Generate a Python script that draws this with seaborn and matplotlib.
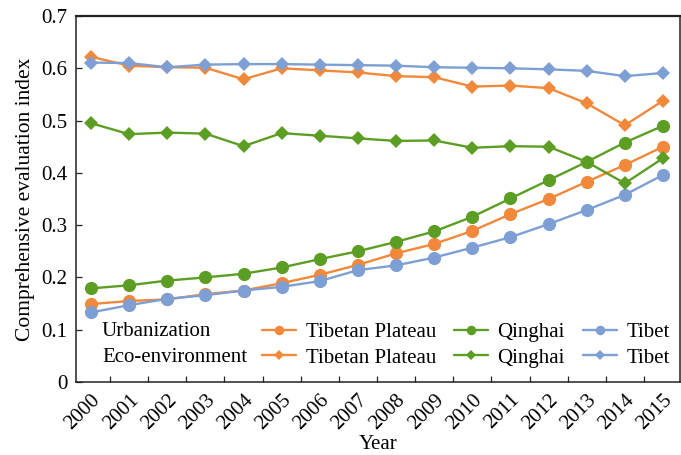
import matplotlib
matplotlib.use("Agg")
import matplotlib.pyplot as plt
from matplotlib.lines import Line2D
from matplotlib.ticker import FuncFormatter, FixedLocator
import numpy as np
import pandas as pd
import seaborn as sns

years = list(range(2000, 2016))

# Urbanization index
urb_plateau = [0.149, 0.155, 0.158, 0.168, 0.175, 0.189, 0.205, 0.224, 0.246, 0.264,
               0.289, 0.321, 0.350, 0.383, 0.415, 0.450]
urb_qinghai = [0.179, 0.185, 0.194, 0.200, 0.207, 0.219, 0.235, 0.250, 0.268, 0.288,
               0.316, 0.351, 0.386, 0.421, 0.458, 0.490]
urb_tibet = [0.133, 0.147, 0.159, 0.166, 0.175, 0.182, 0.193, 0.214, 0.223, 0.238,
             0.257, 0.277, 0.302, 0.329, 0.358, 0.396]

# Eco-environment index
eco_plateau = [0.622, 0.605, 0.602, 0.601, 0.579, 0.600, 0.596, 0.592, 0.585, 0.583,
               0.565, 0.567, 0.562, 0.533, 0.491, 0.538]
eco_qinghai = [0.495, 0.474, 0.477, 0.475, 0.451, 0.476, 0.471, 0.466, 0.461, 0.462,
               0.448, 0.451, 0.450, 0.421, 0.380, 0.428]
eco_tibet = [0.611, 0.610, 0.602, 0.607, 0.608, 0.608, 0.607, 0.606, 0.605, 0.602,
             0.601, 0.600, 0.598, 0.595, 0.585, 0.591]

regions = ["Tibetan Plateau", "Qinghai", "Tibet"]
indices = ["Urbanization", "Eco-environment"]
colors = {"Tibetan Plateau": "#F2883A", "Qinghai": "#5C9E24", "Tibet": "#7D9FD3"}
markers = {"Urbanization": "o", "Eco-environment": "D"}
sizes = {"Urbanization": 9.5, "Eco-environment": 7.0}

series = {
    ("Urbanization", "Tibetan Plateau"): urb_plateau,
    ("Urbanization", "Qinghai"): urb_qinghai,
    ("Urbanization", "Tibet"): urb_tibet,
    ("Eco-environment", "Tibetan Plateau"): eco_plateau,
    ("Eco-environment", "Qinghai"): eco_qinghai,
    ("Eco-environment", "Tibet"): eco_tibet,
}

rows = []
for (idx, reg), vals in series.items():
    for y, v in zip(years, vals):
        rows.append({"Year": y, "value": v, "region": reg, "index": idx})
df = pd.DataFrame(rows)

sns.set_theme(style="white")
plt.rcParams["font.family"] = ["Liberation Serif", "DejaVu Serif"]
plt.rcParams["text.color"] = "black"
plt.rcParams["axes.labelcolor"] = "black"
plt.rcParams["xtick.color"] = "black"
plt.rcParams["ytick.color"] = "black"

FS = 15

fig = plt.figure(figsize=(6.81, 4.55), dpi=100)
ax = fig.add_axes([76 / 681, 1 - 382 / 455, 604 / 681, 366 / 455])

for idx in indices:
    for reg in regions:
        sub = df[(df["index"] == idx) & (df["region"] == reg)]
        sns.lineplot(data=sub, x="Year", y="value", ax=ax, color=colors[reg],
                     marker=markers[idx], markersize=sizes[idx], markeredgewidth=0,
                     linewidth=1.7, legend=False)

ax.set_xlim(1999.607, 2015.446)
ax.set_ylim(0, 0.7)

ax.xaxis.set_major_locator(FixedLocator(years))
ax.set_xticks([y + 0.5 for y in years[:-1]], minor=True)
ax.set_xticklabels([str(y) for y in years], rotation=45, ha="right", va="top",
                   rotation_mode="anchor")
ax.tick_params(axis="x", which="major", length=0, pad=6, labelsize=FS)
ax.tick_params(axis="x", which="minor", direction="in", length=4, width=0.9,
               bottom=True, color="#222222")
ax.set_yticks(np.arange(0, 0.71, 0.1))
ax.yaxis.set_major_formatter(FuncFormatter(lambda v, p: "0" if abs(v) < 1e-9 else f"{v:.1f}"))
ax.tick_params(axis="y", direction="in", length=4, width=0.9, pad=6, labelsize=FS,
               left=True, color="#222222")

for s in ax.spines.values():
    s.set_color("#222222")
    s.set_linewidth(1.1)
ax.spines["top"].set_linewidth(1.6)

ax.set_xlabel("Year", fontsize=FS, labelpad=1)
ax.set_ylabel("Comprehensive evaluation index", fontsize=15.5, labelpad=5)
ax.set_facecolor("white")

# two-row legend: index names as row headers, regions as columns
ax.text((102 - 76) / 604, (382 - 332) / 366, "Urbanization", transform=ax.transAxes,
        fontsize=FS, va="center", ha="left")
ax.text((102 - 76) / 604, (382 - 358) / 366, "Eco-environment", transform=ax.transAxes,
        fontsize=FS, va="center", ha="left")

handles, labels = [], []
for reg in regions:
    for idx in indices:
        handles.append(Line2D([], [], color=colors[reg], marker=markers[idx],
                              markersize=sizes[idx] * 0.72, markeredgewidth=0,
                              linewidth=1.7))
        labels.append(reg)
ax.legend(handles, labels, ncol=3, loc="center left",
          bbox_to_anchor=((262 - 76) / 604, (382 - 345) / 366),
          frameon=False, fontsize=FS, borderpad=0, borderaxespad=0,
          handlelength=1.65, handletextpad=0.45, columnspacing=0.85,
          labelspacing=0.3)

fig.savefig("out.png", dpi=100, facecolor="white")
